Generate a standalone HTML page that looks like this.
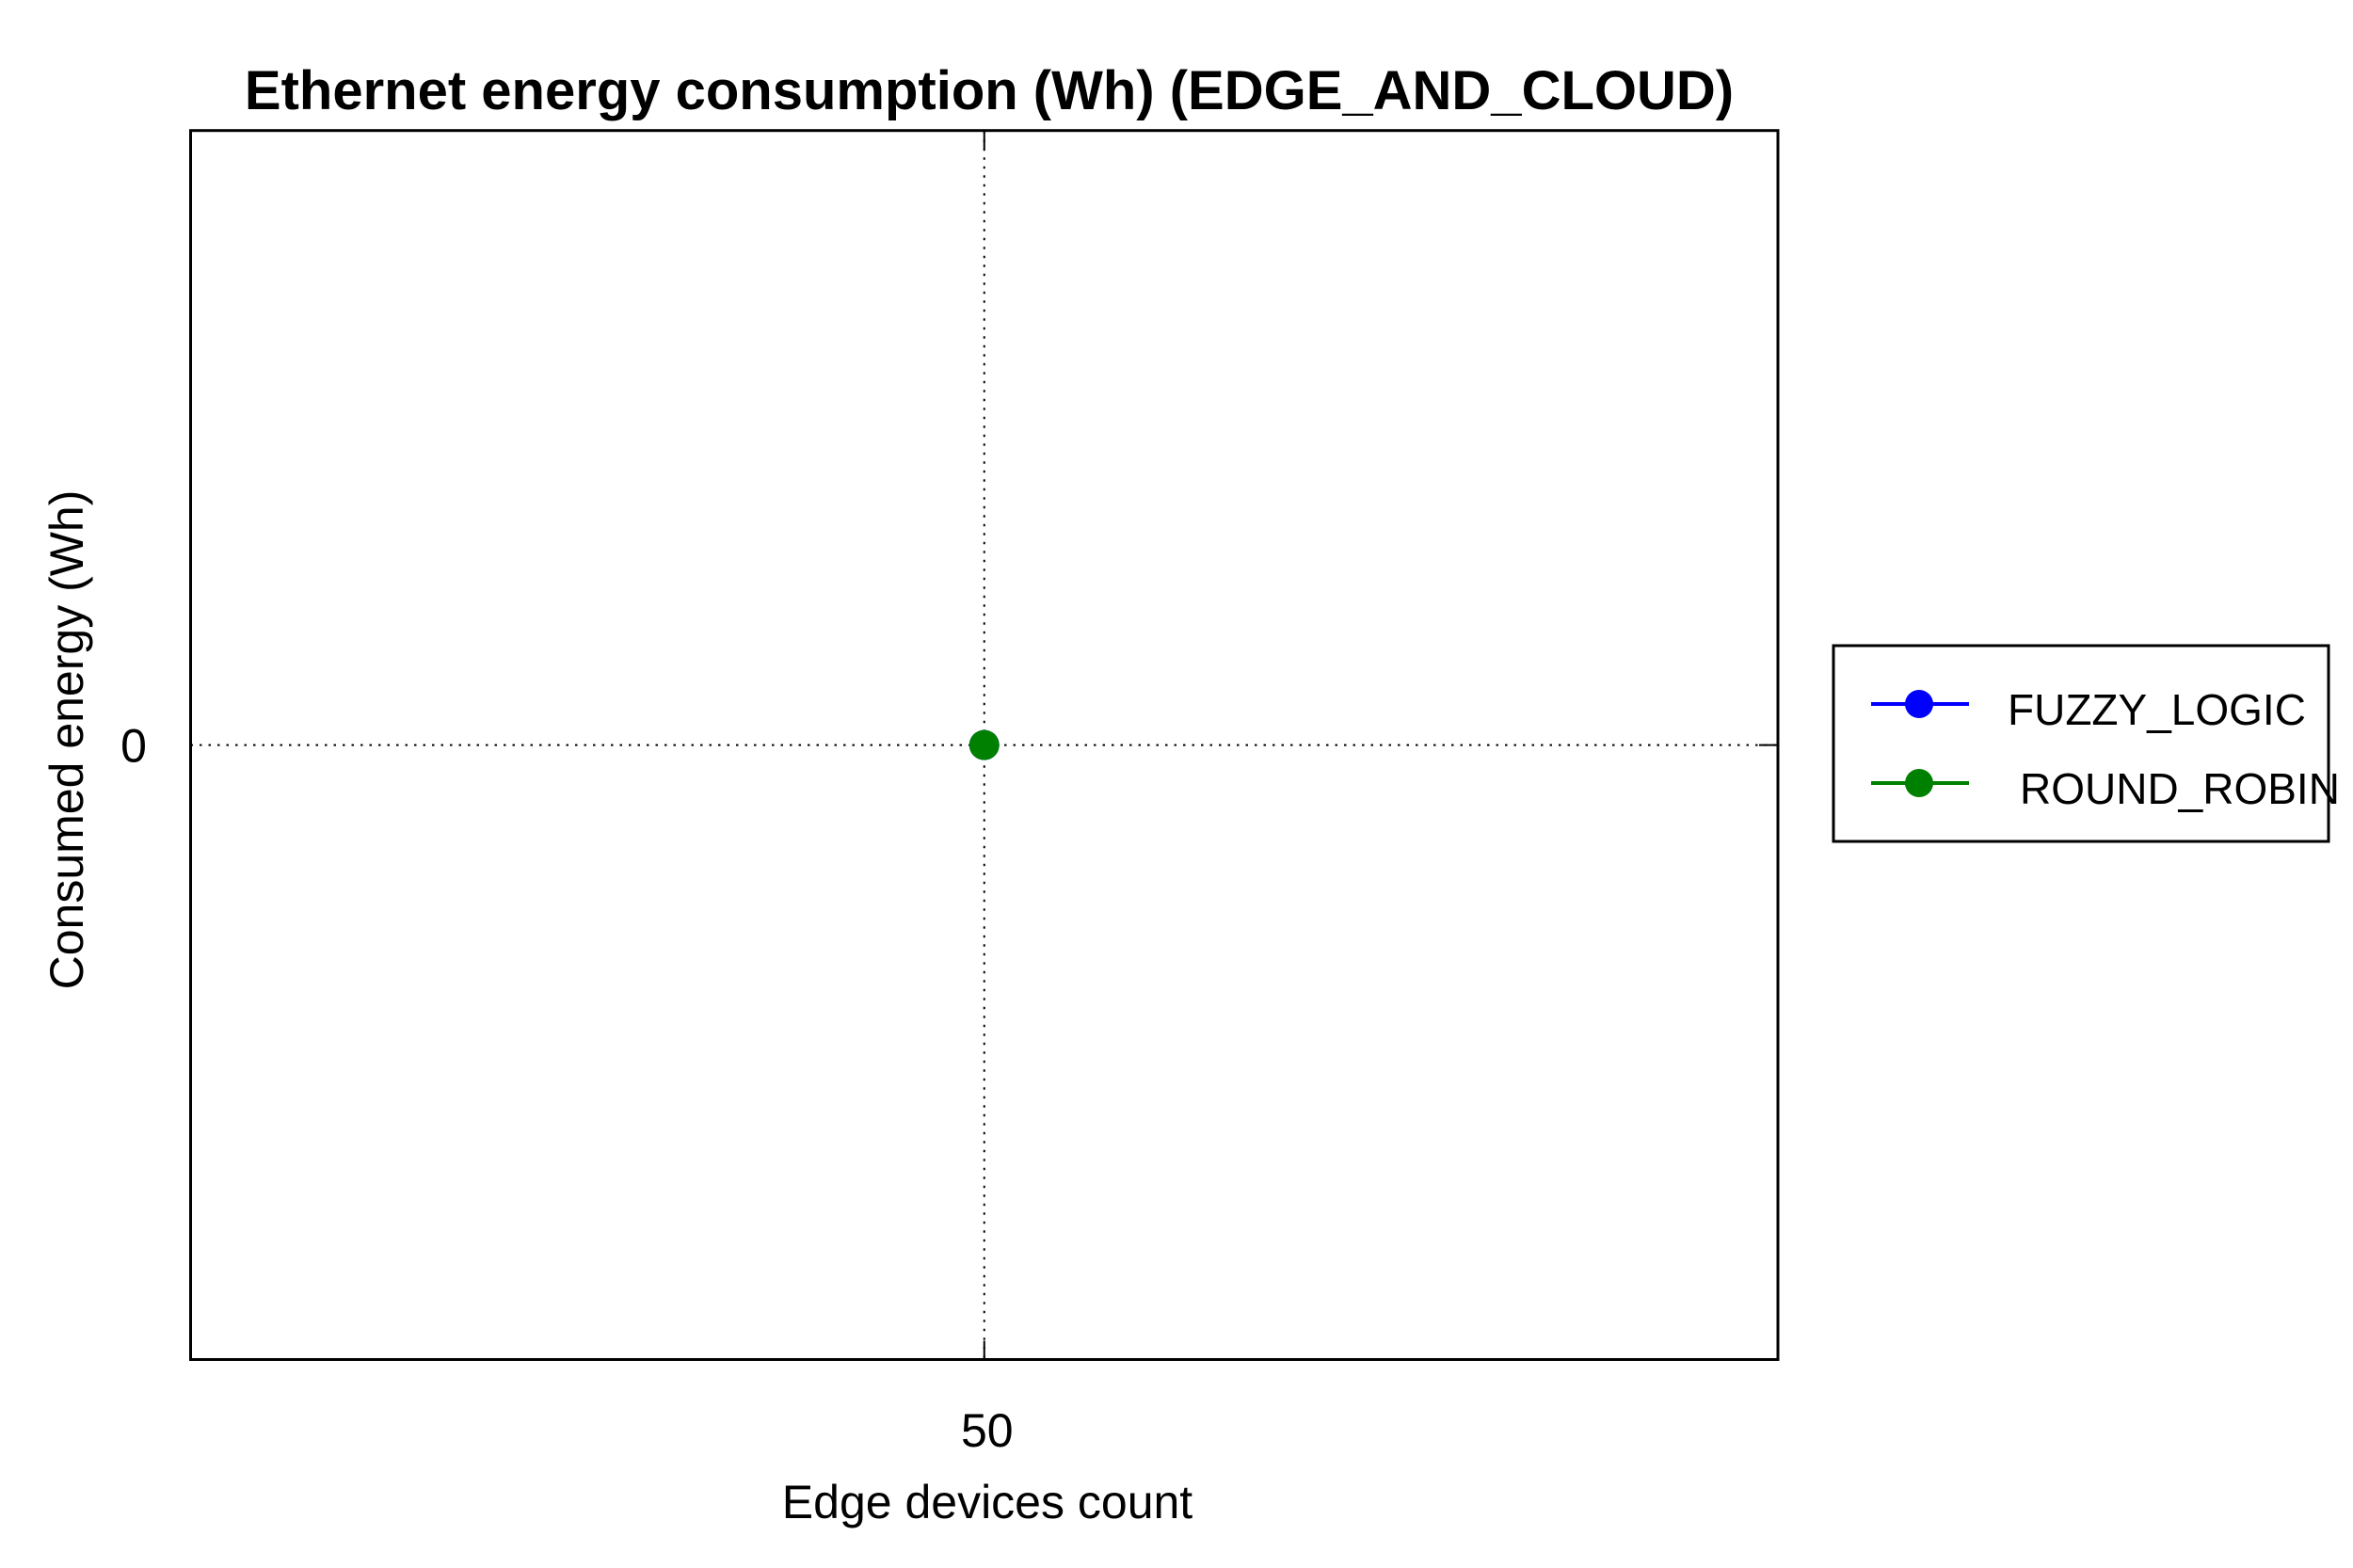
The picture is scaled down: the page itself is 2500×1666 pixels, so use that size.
<!DOCTYPE html>
<html><head><meta charset="utf-8"><style>
html,body{margin:0;padding:0;background:#fff;overflow:hidden;}
svg{display:block;font-family:"Liberation Sans",Arial,sans-serif;}
</style></head><body>
<svg id="chart" width="2500" height="1666" viewBox="0 0 2500 1666" xmlns="http://www.w3.org/2000/svg">
<rect x="0" y="0" width="2500" height="1666" fill="#fff"/>
<text x="1051" y="116" text-anchor="middle" font-size="58" font-weight="bold">Ethernet energy consumption (Wh) (EDGE_AND_CLOUD)</text>
<g id="grid"></g>
<rect x="202.5" y="138.7" width="1686.5" height="1305.8" fill="none" stroke="#000" stroke-width="3"/>
<g id="ticks"></g>
<g id="marks"></g>
<text x="1049" y="1613" text-anchor="middle" font-size="50">Edge devices count</text>
<text transform="translate(88,786) rotate(-90)" text-anchor="middle" font-size="50">Consumed energy (Wh)</text>
<g>
<rect x="1948" y="686" width="526" height="208" fill="#fff" stroke="#000" stroke-width="3"/>
<g>
<line x1="1988" y1="748" x2="2092" y2="748" stroke="#0000ff" stroke-width="4"/>
<circle cx="2039" cy="748" r="15" fill="#0000ff"/>
<text x="2133" y="770" font-size="46">FUZZY_LOGIC</text>
</g>
<g>
<line x1="1988" y1="832" x2="2092" y2="832" stroke="#008000" stroke-width="4"/>
<circle cx="2039" cy="832" r="15" fill="#008000"/>
<text x="2146" y="854" font-size="46">ROUND_ROBIN</text>
</g>
</g>
</svg>
<script>
const categories = [50];
const fuzzyValues = [0];
const roundRobinValues = [0];
const yTickValues = [0];
const xTickLabels = ["50"];
const yTickLabels = ["0"];

const L=202.5,R=1889,T=138.7,B=1444.5;
function xScale(v){
  const min=categories[0]-1,max=categories[categories.length-1]+1;
  return L+(v-min)/(max-min)*(R-L);
}
function yScale(v){const min=-1,max=1;return B-(v-min)/(max-min)*(B-T);}
const NS="http://www.w3.org/2000/svg";
const grid=document.getElementById('grid'),ticks=document.getElementById('ticks'),marks=document.getElementById('marks');
function mk(tag,attrs,parent){const e=document.createElementNS(NS,tag);for(const k in attrs)e.setAttribute(k,attrs[k]);parent.appendChild(e);return e;}
categories.forEach((c,i)=>{
  const x=xScale(c);
  const g=mk('line',{x1:x,y1:T,x2:x,y2:B,stroke:'#000','stroke-width':2,'stroke-dasharray':'2.5,7'},grid);
  
  
  const t1=mk('line',{x1:x,y1:B,x2:x,y2:B-20,stroke:'#000','stroke-width':2},ticks);
  
  
  const t2=mk('line',{x1:x,y1:T,x2:x,y2:T+20,stroke:'#000','stroke-width':2},ticks);
  
  
  const lab=mk('text',{x:x+3,y:1537,'text-anchor':'middle','font-size':50},ticks);
  lab.textContent=xTickLabels[i];
  
  
});
yTickValues.forEach((v,i)=>{
  const y=yScale(v);
  const g=mk('line',{x1:L,y1:y,x2:R,y2:y,stroke:'#000','stroke-width':2,'stroke-dasharray':'2.5,7'},grid);
  
  
  const t2=mk('line',{x1:R,y1:y,x2:R-20,y2:y,stroke:'#000','stroke-width':2},ticks);
  
  
  const lab=mk('text',{x:142,y:y+18,'text-anchor':'middle','font-size':50},ticks);
  lab.textContent=yTickLabels[i];
  
  
});
[[fuzzyValues,'#0000ff','fuzzy-logic'],[roundRobinValues,'#008000','round-robin']].forEach(([vals,col,name])=>{
  vals.forEach((v,i)=>{
    const c=mk('circle',{cx:xScale(categories[i]),cy:yScale(v),r:16,fill:col},marks);
    
    
  });
});
</script>
</body></html>
